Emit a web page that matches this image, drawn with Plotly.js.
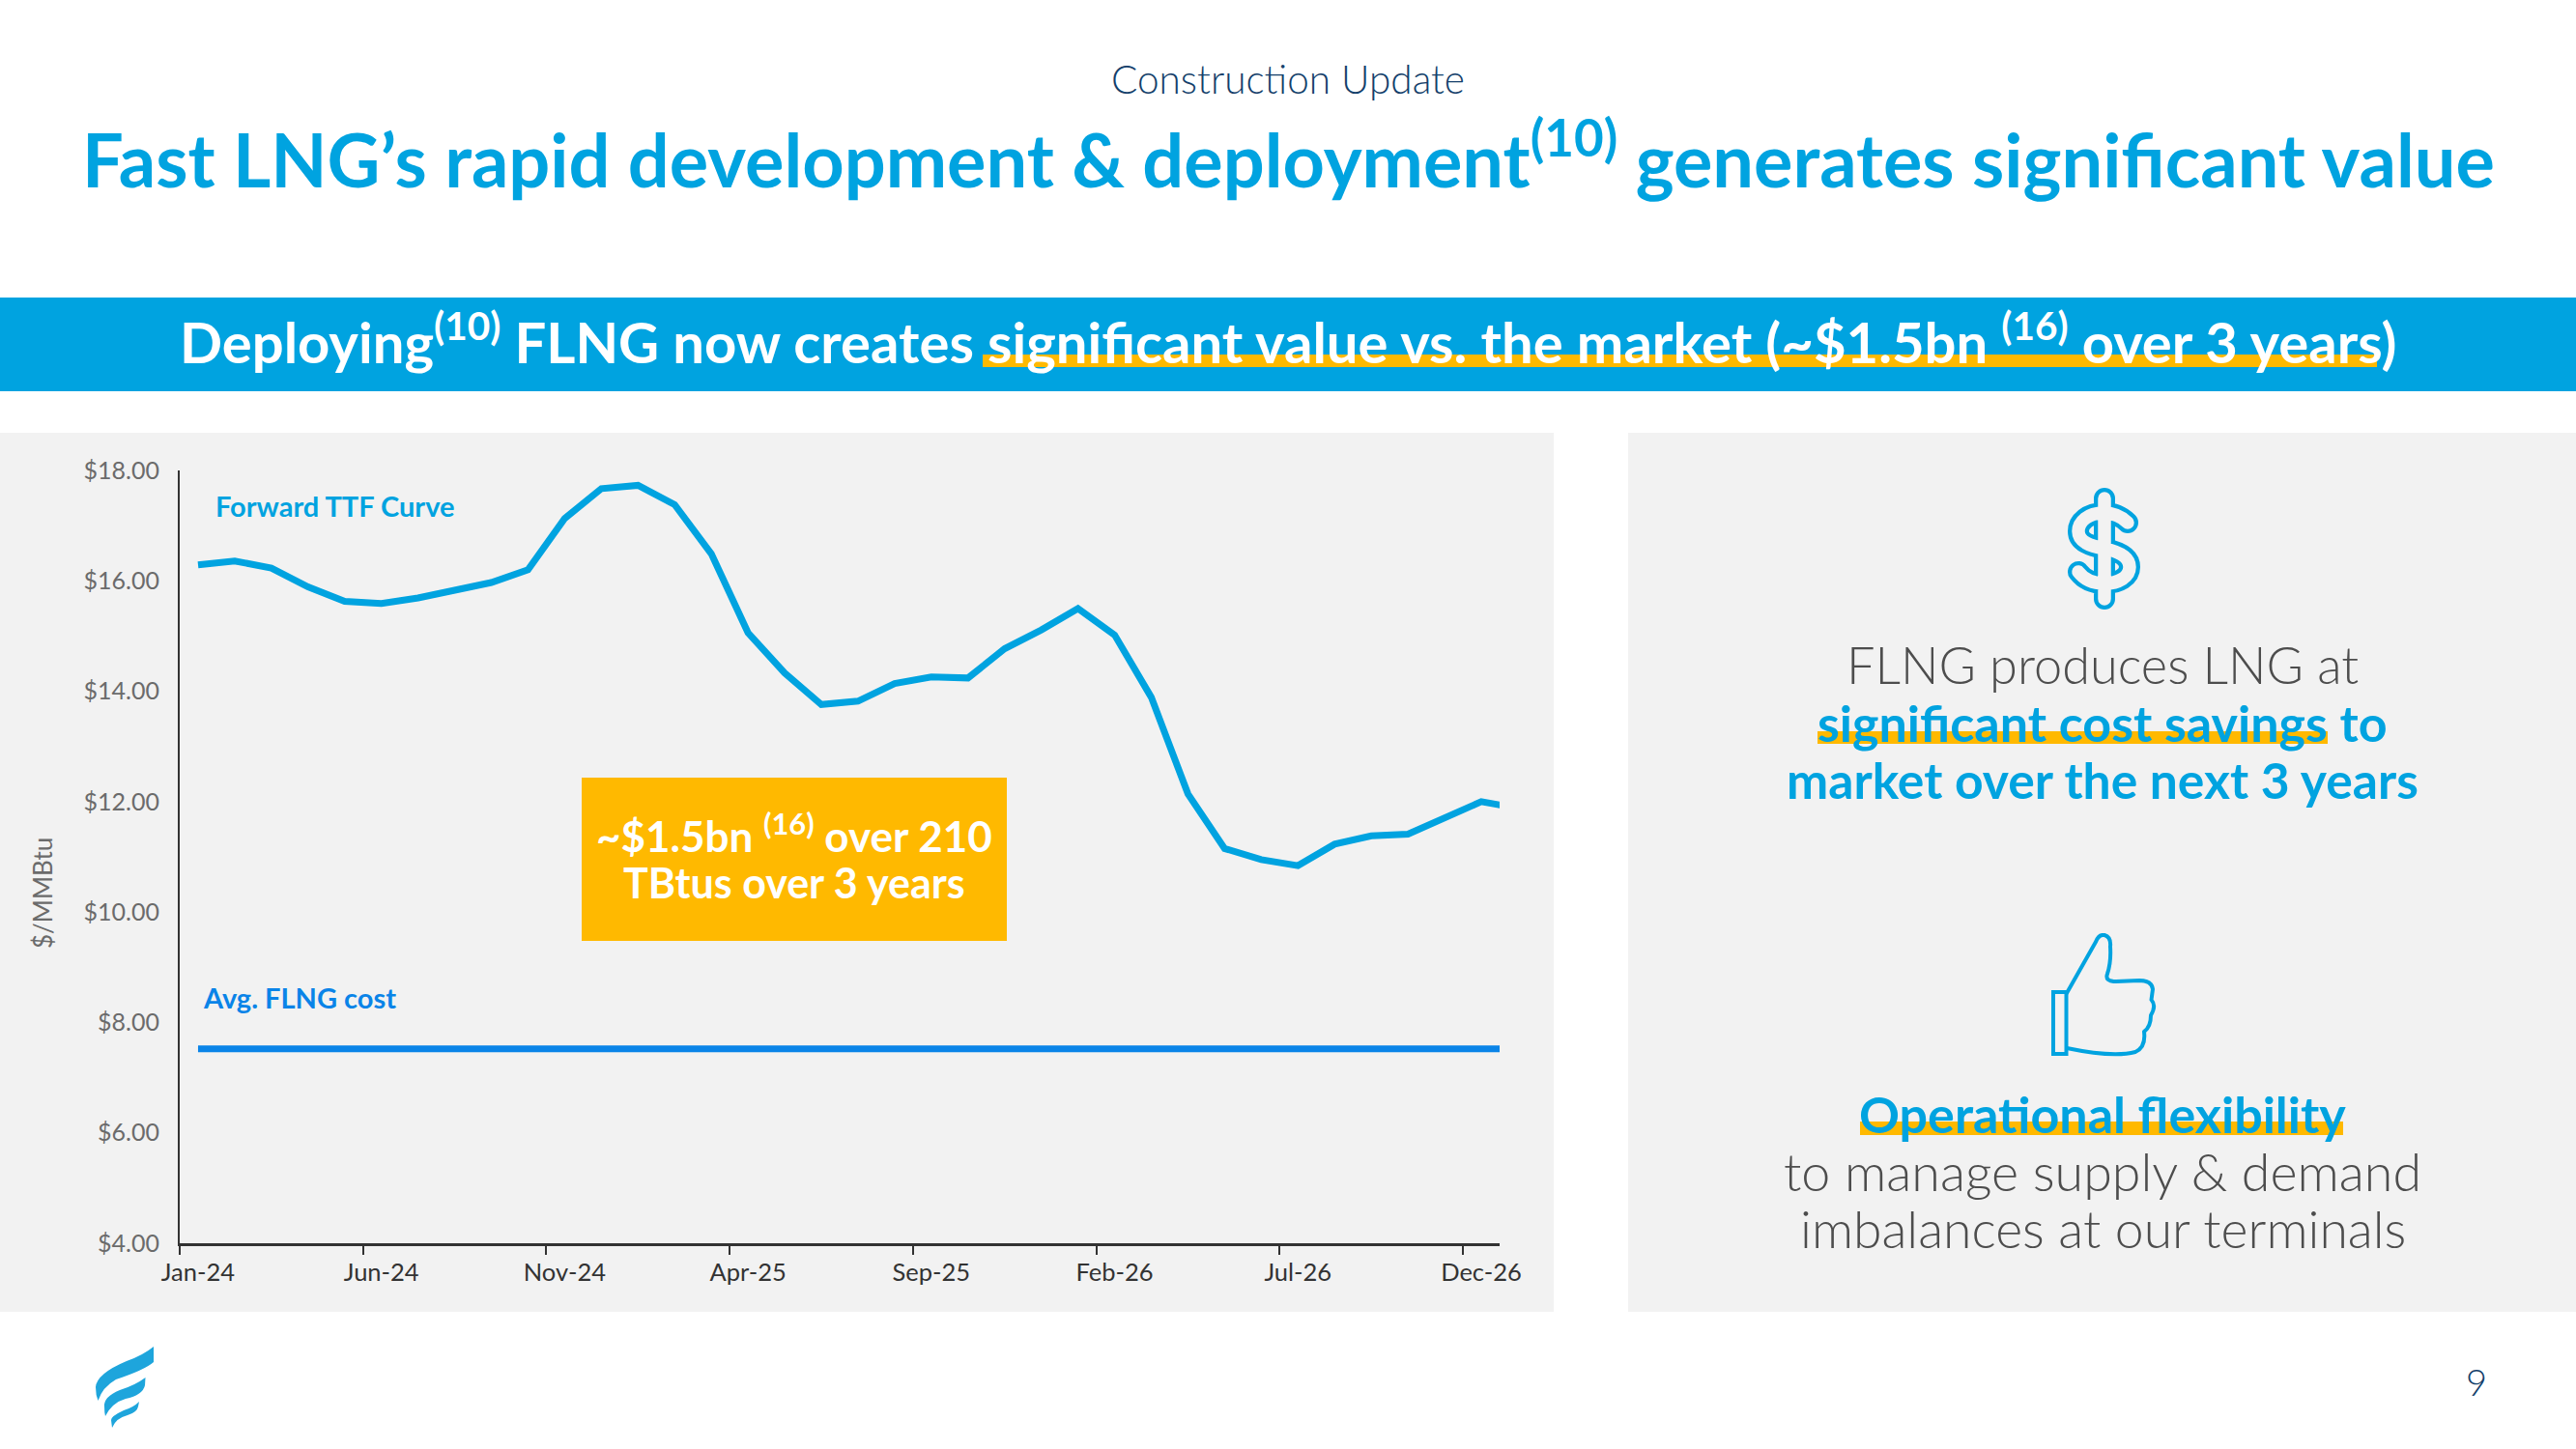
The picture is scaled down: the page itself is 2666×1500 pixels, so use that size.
<!DOCTYPE html>
<html>
<head>
<meta charset="utf-8">
<script src="https://cdn.plot.ly/plotly-3.0.1.min.js"></script>
<style>html,body{margin:0;padding:0;background:#fff}#chart{width:2666px;height:1500px}</style>
</head>
<body>
<div id="chart"></div>
<script>
const months = ["Jan-24","Feb-24","Mar-24","Apr-24","May-24","Jun-24","Jul-24","Aug-24","Sep-24","Oct-24","Nov-24","Dec-24",
  "Jan-25","Feb-25","Mar-25","Apr-25","May-25","Jun-25","Jul-25","Aug-25","Sep-25","Oct-25","Nov-25","Dec-25",
  "Jan-26","Feb-26","Mar-26","Apr-26","May-26","Jun-26","Jul-26","Aug-26","Sep-26","Oct-26","Nov-26","Dec-26","Jan-27"];
const forwardTTF = [16.29,16.36,16.23,15.89,15.63,15.59,15.69,15.83,15.97,16.20,17.13,17.67,
  17.73,17.38,16.49,15.06,14.33,13.76,13.82,14.14,14.26,14.24,14.77,15.11,
  15.50,15.02,13.89,12.14,11.15,10.95,10.84,11.23,11.38,11.41,11.71,12.00,11.88];
const avgFLNG = months.map(() => 7.52);
const yTicks = [4,6,8,10,12,14,16,18];
const xLabelStep = 5;

const W = 2666, H = 1500;
const FONT = "Lato, 'Open Sans', sans-serif";
const BLUE = "#00A3E0", NAVY = "#143F6B", GOLD = "#FFB900", PANEL = "#F2F2F2", GREY = "#4D4D4D";
const px = v => v / W, py = v => 1 - v / H;
const idx = months.map((_, i) => i);
const labelIdx = idx.filter(i => i % xLabelStep === 0 && i < 36);
const boundaries = labelIdx.map(i => i - 0.5);

const rect = (x0, y0, x1, y1, fill) => ({type:"rect", xref:"paper", yref:"paper", layer:"below",
  x0:px(x0), x1:px(x1), y0:py(y1), y1:py(y0), fillcolor:fill, line:{width:0}});
const txt = (x, y, text, size, color, opts) => Object.assign({xref:"paper", yref:"paper", x:px(x), y:py(y), text,
  showarrow:false, xanchor:"center", yanchor:"middle", font:{family:FONT, size, color}}, opts || {});
const bold = (size, color) => ({font:{family:FONT, size, color, weight:700}});
const light = (size, color) => ({font:{family:FONT, size, color, weight:300}});

const svg = (w, h, body) => "data:image/svg+xml;charset=utf-8," + encodeURIComponent(
  `<svg xmlns="http://www.w3.org/2000/svg" width="${w}" height="${h}" viewBox="0 0 ${w} ${h}">${body}</svg>`);
const img = (x, y, w, h, body) => ({source:svg(w, h, body), xref:"paper", yref:"paper", x:px(x), y:py(y),
  sizex:w/W, sizey:h/H, xanchor:"left", yanchor:"top", sizing:"stretch", layer:"above"});

const dollarD = "M63 37 C56 30 48 27 38 27 C22 27 12 36 12 46 C12 57 24 61 39 64 C54 67 65 72 65 83 C65 93 54 100 39 100 C28 100 18 96 12 88 M39 12 L39 116";
const dollarBody = `<path d="${dollarD}" fill="none" stroke="${BLUE}" stroke-width="22" stroke-linecap="round" stroke-linejoin="round"/>
<path d="${dollarD}" fill="none" stroke="${PANEL}" stroke-width="13.5" stroke-linecap="round" stroke-linejoin="round"/>`;
const thumbBody = `<rect x="3" y="61" width="13.5" height="64" fill="none" stroke="${BLUE}" stroke-width="4"/>
<path d="M17 62 L47 9 Q50 1 56 2 Q63 4 62 14 Q63 30 59 42 Q56 50 68 50 L92 49 Q105 49 106 58 L104.5 69 Q110 75 104 85 Q104 97 97 102 Q99 118 88 123 Q65 129 17 119" fill="none" stroke="${BLUE}" stroke-width="4" stroke-linejoin="round" stroke-linecap="round"/>`;
const logoBody = `<g fill="#1EA5DC"><path d="M61 0 Q50 9 33 15 Q2 28 1 42 Q1 50 3.5 56 Q8 42 22 34 Q52 24 61 16 Z"/>
<path d="M52.5 32 Q42 40 26 45 Q9 52 10 62 Q10 68 11 72 Q18 58 32 54 Q50 50 52 40 Z"/>
<path d="M46 57 Q40 63 30 66 Q17 72 17 76 L18 84 Q22 74 34 71 Q44 68 45 62 Z"/></g>`;

const traces = [
  {x:idx, y:forwardTTF, type:"scatter", mode:"lines", name:"Forward TTF Curve", hoverinfo:"skip",
   line:{color:BLUE, width:7, shape:"linear"}},
  {x:idx, y:avgFLNG, type:"scatter", mode:"lines", name:"Avg. FLNG cost", hoverinfo:"skip", xaxis:"x2",
   line:{color:"#0A84E8", width:7}}
];

const xDomain = [px(186), px(1552)];
const layout = {
  width:W, height:H, margin:{l:0,r:0,t:0,b:0,pad:0}, showlegend:false,
  paper_bgcolor:"#FFFFFF", plot_bgcolor:"rgba(0,0,0,0)",
  font:{family:FONT},
  xaxis:{domain:xDomain, range:[-0.5,35.5], type:"linear", anchor:"y", automargin:false,
    tickmode:"array", tickvals:boundaries, showticklabels:false,
    ticks:"outside", ticklen:9, tickwidth:2, tickcolor:"#333333",
    showline:true, linecolor:"#333333", linewidth:2.5, showgrid:false, zeroline:false},
  xaxis2:{domain:xDomain, range:[-0.5,35.5], type:"linear", anchor:"y", overlaying:"x", side:"bottom", automargin:false,
    tickmode:"array", tickvals:labelIdx, ticktext:labelIdx.map(i => months[i]),
    ticks:"", ticklen:0, ticklabelstandoff:12, tickangle:0,
    tickfont:{family:FONT, size:25.5, color:"#333333"},
    showline:false, showgrid:false, zeroline:false},
  yaxis:{domain:[py(1287), py(487)], range:[4,18], anchor:"x", automargin:false,
    tickmode:"array", tickvals:yTicks, ticktext:yTicks.map(v => "$" + v.toFixed(2)), ticks:"", ticklabelstandoff:14,
    tickfont:{family:FONT, size:25, color:"#6B6B6B"},
    showline:true, linecolor:"#333333", linewidth:2, showgrid:false, zeroline:false},
  shapes:[
    rect(0,308,W,405,BLUE),
    rect(1017,367,2460,380,GOLD),
    rect(0,448,1608,1358,PANEL),
    rect(1685,448,W,1358,PANEL),
    rect(602,805,1042,974,GOLD),
    rect(1881,757,2409,770,GOLD),
    rect(1925,1161,2425,1175,GOLD)
  ],
  images:[
    img(2139,504,78,128,dollarBody),
    img(2122,966,110,128,thumbBody),
    img(98,1394,62,84,logoBody)
  ],
  annotations:[
    txt(1333,82,"Construction Update",40.5,NAVY,light(40.5,NAVY)),
    txt(1333,160,"Fast LNG’s rapid development &amp; deployment<sup>(10)</sup> generates significant value",75.7,BLUE,bold(75.7,BLUE)),
    txt(1333,350,"Deploying<sup>(10)</sup> FLNG now creates significant value vs. the market (~$1.5bn <sup>(16)</sup> over 3 years)",58,"#FFFFFF",bold(58,"#FFFFFF")),
    txt(221,524,"Forward TTF Curve",29,BLUE,Object.assign({xanchor:"left"},bold(29,BLUE))),
    txt(208,1032,"Avg. FLNG cost",29,"#0A84E8",Object.assign({xanchor:"left"},bold(29,"#0A84E8"))),
    txt(44,925,"$/MMBtu",26,"#6B6B6B",{textangle:-90}),
    txt(822,862,"~$1.5bn <sup>(16)</sup> over 210",44,"#FFFFFF",bold(44,"#FFFFFF")),
    txt(822,914,"TBtus over 3 years",43,"#FFFFFF",bold(43,"#FFFFFF")),
    txt(2176,687,"FLNG produces LNG at",52.3,GREY,light(52.3,GREY)),
    txt(2176,748,"significant cost savings to",52,BLUE,bold(52,BLUE)),
    txt(2176,807,"market over the next 3 years",51.6,BLUE,bold(51.6,BLUE)),
    txt(2176,1153,"Operational flexibility",52,BLUE,bold(52,BLUE)),
    txt(2176,1212,"to manage supply &amp; demand",53.8,GREY,light(53.8,GREY)),
    txt(2176,1271,"imbalances at our terminals",53.5,GREY,light(53.5,GREY)),
    txt(2563,1430,"9",38,NAVY,light(38,NAVY))
  ]
};
Plotly.newPlot("chart", traces, layout, {displayModeBar:false, responsive:false});
</script>
</body>
</html>
